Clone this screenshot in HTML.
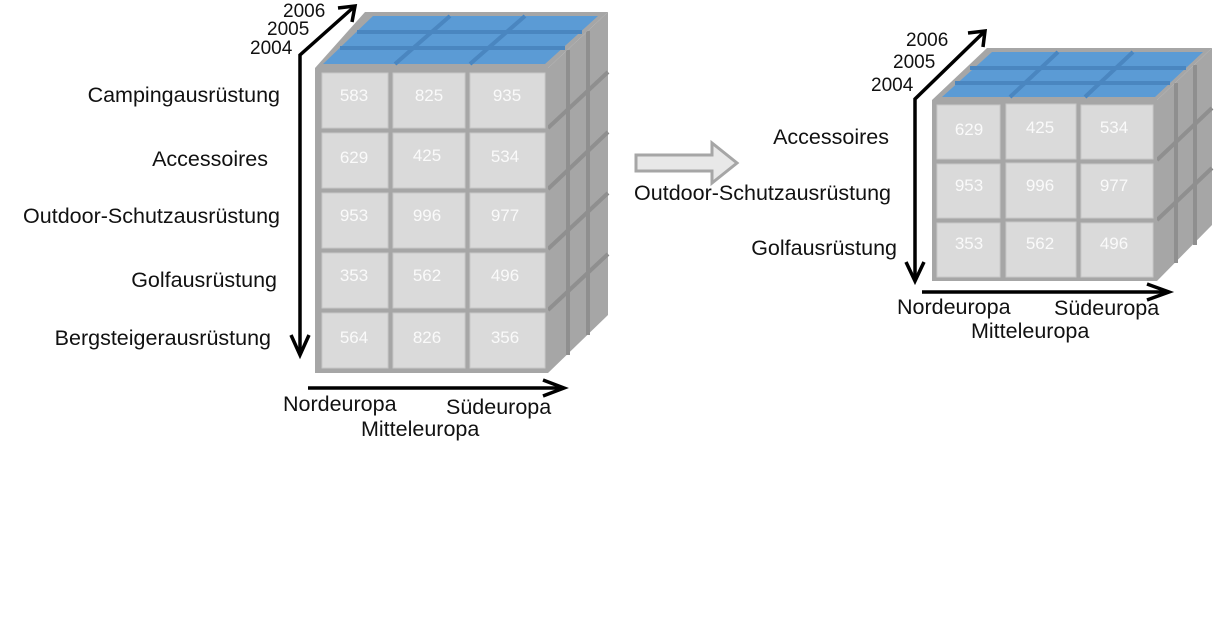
<!DOCTYPE html>
<html><head><meta charset="utf-8"><style>
html,body{margin:0;padding:0;background:#fff;width:1221px;height:630px;overflow:hidden}
svg text{font-family:"Liberation Sans",sans-serif}
.l{font-size:21.5px;fill:#111}
.n{font-size:17px;fill:#fafafa;text-anchor:middle}
.c{fill:#dadada;stroke:#c8c8c8;stroke-width:1}
</style></head><body>
<svg width="1221" height="630" viewBox="0 0 1221 630" xmlns="http://www.w3.org/2000/svg">

<!-- LEFT CUBE -->
<polygon points="548,68 608,12 608,315 548,373" fill="#a6a6a6"/>
<g stroke="#8f8f8f" stroke-width="4" fill="none">
<line x1="568" y1="50" x2="568" y2="355"/><line x1="588" y1="31" x2="588" y2="335"/>
<line x1="548" y1="128" x2="608" y2="72"/><line x1="548" y1="189" x2="608" y2="132"/>
<line x1="548" y1="249" x2="608" y2="193"/><line x1="548" y1="310" x2="608" y2="254"/>
</g>
<polygon points="315,68 548,68 608,12 365,12" fill="#a6a6a6"/>
<polygon points="323,64 545,64 598,16 373,16" fill="#5b9bd5"/>
<g stroke="#4a86c0" stroke-width="4">
<line x1="340" y1="48" x2="565" y2="48"/><line x1="357" y1="32" x2="582" y2="32"/>
<line x1="395" y1="64" x2="450" y2="16"/><line x1="470" y1="64" x2="525" y2="16"/>
</g>
<rect x="315" y="68" width="233" height="305" fill="#a6a6a6"/>
<g class="c">
<rect x="322" y="73" width="66" height="55"/><rect x="393" y="73" width="72" height="55"/><rect x="470" y="73" width="75" height="55"/>
<rect x="322" y="133" width="66" height="55"/><rect x="393" y="133" width="72" height="55"/><rect x="470" y="133" width="75" height="55"/>
<rect x="322" y="193" width="66" height="55"/><rect x="393" y="193" width="72" height="55"/><rect x="470" y="193" width="75" height="55"/>
<rect x="322" y="253" width="66" height="55"/><rect x="393" y="253" width="72" height="55"/><rect x="470" y="253" width="75" height="55"/>
<rect x="322" y="313" width="66" height="55"/><rect x="393" y="313" width="72" height="55"/><rect x="470" y="313" width="75" height="55"/>
</g>
<g class="n">
<text x="354" y="101">583</text><text x="429" y="101">825</text><text x="507" y="101">935</text>
<text x="354" y="163">629</text><text x="427" y="161">425</text><text x="505" y="162">534</text>
<text x="354" y="221">953</text><text x="427" y="221">996</text><text x="505" y="221">977</text>
<text x="354" y="281">353</text><text x="427" y="281">562</text><text x="505" y="281">496</text>
<text x="354" y="343">564</text><text x="427" y="343">826</text><text x="505" y="343">356</text>
</g>
<polyline points="300,355 300,55 355,6" fill="none" stroke="#000" stroke-width="3.5"/>
<path d="M291,335 L300,355 L309,335" fill="none" stroke="#000" stroke-width="3.5"/>
<path d="M338,8 L355,6 L352,22" fill="none" stroke="#000" stroke-width="3.5"/>
<line x1="308" y1="388" x2="563" y2="388" stroke="#000" stroke-width="3.5"/>
<path d="M543,380 L564,388 L543,396" fill="none" stroke="#000" stroke-width="3.5"/>
<g class="l">
<text x="283" y="17" style="font-size:19px">2006</text><text x="267" y="35" style="font-size:19px">2005</text><text x="250" y="54" style="font-size:19px">2004</text>
<text x="280" y="102" text-anchor="end">Campingausrüstung</text>
<text x="268" y="166" text-anchor="end">Accessoires</text>
<text x="280" y="223" text-anchor="end">Outdoor-Schutzausrüstung</text>
<text x="277" y="287" text-anchor="end">Golfausrüstung</text>
<text x="271" y="345" text-anchor="end">Bergsteigerausrüstung</text>
<text x="283" y="411">Nordeuropa</text><text x="446" y="414">Südeuropa</text><text x="361" y="436">Mitteleuropa</text>
</g>

<!-- MIDDLE ARROW -->
<polygon points="636,155 712,155 712,143 737,163 712,183 712,171 636,171" fill="#e8e8e8" stroke="#a6a6a6" stroke-width="3"/>

<!-- RIGHT CUBE -->
<polygon points="1157,100 1212,48 1212,225 1157,281" fill="#a6a6a6"/>
<g stroke="#8f8f8f" stroke-width="4" fill="none">
<line x1="1176" y1="83" x2="1176" y2="263"/><line x1="1195" y1="65" x2="1195" y2="245"/>
<line x1="1157" y1="160" x2="1212" y2="108"/><line x1="1157" y1="220" x2="1212" y2="168"/>
</g>
<polygon points="932,100 1157,100 1212,48 987,48" fill="#a6a6a6"/>
<polygon points="942,97 1155,97 1203,52 992,52" fill="#5b9bd5"/>
<g stroke="#4a86c0" stroke-width="4">
<line x1="955" y1="83" x2="1170" y2="83"/><line x1="970" y1="68" x2="1186" y2="68"/>
<line x1="1010" y1="97" x2="1058" y2="52"/><line x1="1085" y1="97" x2="1133" y2="52"/>
</g>
<rect x="932" y="100" width="225" height="181" fill="#a6a6a6"/>
<g class="c">
<rect x="937" y="105" width="63" height="54"/><rect x="1006" y="104" width="70" height="55"/><rect x="1081" y="105" width="72" height="54"/>
<rect x="937" y="164" width="63" height="54"/><rect x="1006" y="163" width="70" height="55"/><rect x="1081" y="164" width="72" height="54"/>
<rect x="937" y="223" width="63" height="54"/><rect x="1006" y="222" width="70" height="55"/><rect x="1081" y="223" width="72" height="54"/>
</g>
<g class="n">
<text x="969" y="135">629</text><text x="1040" y="133">425</text><text x="1114" y="133">534</text>
<text x="969" y="191">953</text><text x="1040" y="191">996</text><text x="1114" y="191">977</text>
<text x="969" y="249">353</text><text x="1040" y="249">562</text><text x="1114" y="249">496</text>
</g>
<polyline points="915,280 915,99 985,31" fill="none" stroke="#000" stroke-width="3.5"/>
<path d="M906,262 L915,281 L924,262" fill="none" stroke="#000" stroke-width="3.5"/>
<path d="M968,33 L985,31 L983,47" fill="none" stroke="#000" stroke-width="3.5"/>
<line x1="922" y1="292" x2="1168" y2="292" stroke="#000" stroke-width="3.5"/>
<path d="M1147,284 L1169,292 L1147,300" fill="none" stroke="#000" stroke-width="3.5"/>
<g class="l">
<text x="906" y="46" style="font-size:19px">2006</text><text x="893" y="68" style="font-size:19px">2005</text><text x="871" y="91" style="font-size:19px">2004</text>
<text x="889" y="144" text-anchor="end">Accessoires</text>
<text x="891" y="200" text-anchor="end">Outdoor-Schutzausrüstung</text>
<text x="897" y="255" text-anchor="end">Golfausrüstung</text>
<text x="897" y="314">Nordeuropa</text><text x="1054" y="315">Südeuropa</text><text x="971" y="338">Mitteleuropa</text>
</g>
</svg>
</body></html>
